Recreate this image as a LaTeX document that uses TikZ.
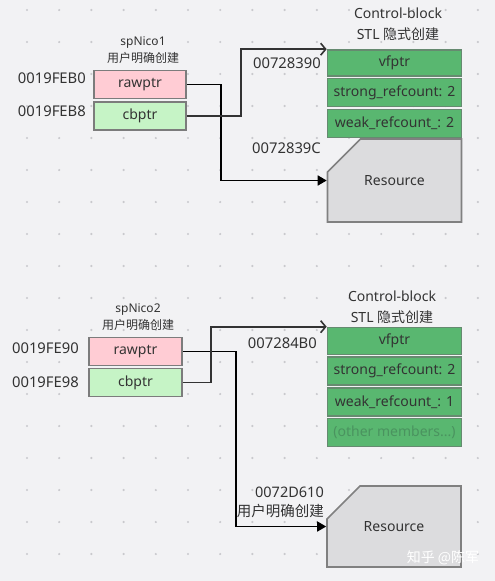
\documentclass[tikz,border=0pt]{standalone}
\usepackage{fontspec}
\setmainfont{Noto Sans}
\newfontfamily\cjk{Noto Sans CJK SC}
\usetikzlibrary{arrows.meta,shapes.misc}

\definecolor{bgcol}{HTML}{F2F2F4}
\definecolor{dotcol}{HTML}{C9C9CD}
\definecolor{txtcol}{HTML}{333333}
\definecolor{rawfill}{HTML}{FFCCD4}
\definecolor{cbfill}{HTML}{C6F4C6}
\definecolor{cellline}{HTML}{7C7C7C}
\definecolor{ctrlfill}{HTML}{59B770}
\definecolor{ctrlline}{HTML}{668A70}
\definecolor{othertxt}{HTML}{4A935F}
\definecolor{resfill}{HTML}{DCDCDE}
\definecolor{resline}{HTML}{808080}

\tikzset{
  ptrcell/.style={draw=cellline, line width=1.6pt, minimum width=92pt, minimum height=28pt, inner sep=0pt},
  rawcell/.style={ptrcell, fill=rawfill},
  cbcell/.style={ptrcell, fill=cbfill},
  ctrlcell/.style={draw=ctrlline, fill=ctrlfill, line width=1.6pt, minimum width=134pt, minimum height=28pt, inner sep=0pt},
  resbox/.style={chamfered rectangle, chamfered rectangle corners=north west,
    chamfered rectangle xsep=29pt, chamfered rectangle ysep=28pt,
    draw=resline, fill=resfill, line width=1.6pt, minimum width=134pt, inner sep=0pt},
  addr/.style={anchor=east, inner sep=0pt, font=\fontsize{14.8}{17}\selectfont},
  caption/.style={align=center, inner sep=0pt, font=\fontsize{12}{17}\selectfont},
  link/.style={line width=1.6pt, black, -{Triangle[length=9pt,width=10pt]}},
  cblink/.style={line width=1.6pt, txtcol, -{Straight Barb[length=5pt,width=12pt]}}
}

\begin{document}
\begin{tikzpicture}[x=1pt, y=-1pt,
  every node/.style={font=\fontsize{14}{17}\selectfont, text=txtcol}]
  \fill[bgcol] (0,0) rectangle (495,581);
  \useasboundingbox (0,0) rectangle (495,581);
  \foreach \i in {0,...,14}
    \foreach \j in {0,...,17}
      \fill[dotcol] ({27+32.2*\i},{10+32*\j}) circle (1.2pt);

  % spNico1
  \node[caption] (nico1) at (143,50.5) {spNico1\\{\cjk 用户明确创建}};
  \node[rawcell] (raw1) at (140,84.5) {rawptr};
  \node[cbcell] (cb1) at (140,116) {cbptr};
  \node[addr] (adr1) at (86,78) {0019FEB0};
  \node[addr] (adr2) at (86,111) {0019FEB8};

  \node[align=center, inner sep=0pt, font=\fontsize{14}{21}\selectfont] (ctl1) at (398,24.5) {Control-block\\STL {\cjk 隐式创建}};
  \node[ctrlcell, minimum height=26pt] (vf1) at (394.5,63) {vfptr};
  \node[ctrlcell] (sr1) at (394.5,92.5) {strong\_refcount: 2};
  \node[ctrlcell] (wr1) at (394.5,123.5) {weak\_refcount\_: 2};
  \node[addr] (adr3) at (321,63) {00728390};
  \node[addr] (adr4) at (321,148) {0072839C};
  \node[resbox, minimum height=83pt] (res1) at (394.5,180.5) {Resource};

  \draw[link] (raw1.east) -- ++(34,0) |- (res1.west);
  \draw[cblink] (cb1.east) -- ++(54,0) |- (vf1.north west);

  % spNico2
  \node[caption] (nico2) at (138,317) {spNico2\\{\cjk 用户明确创建}};
  \node[rawcell, minimum width=93pt] (raw2) at (135.5,351.5) {rawptr};
  \node[cbcell, minimum width=93pt] (cb2) at (135.5,382.5) {cbptr};
  \node[addr] (adr5) at (79,348) {0019FE90};
  \node[addr] (adr6) at (79,382) {0019FE98};

  \node[align=center, inner sep=0pt, font=\fontsize{14}{21}\selectfont] (ctl2) at (392,307) {Control-block\\STL {\cjk 隐式创建}};
  \node[ctrlcell, minimum height=27pt] (vf2) at (394.5,341) {vfptr};
  \node[ctrlcell] (sr2) at (394.5,371) {strong\_refcount: 2};
  \node[ctrlcell] (wr2) at (394.5,402) {weak\_refcount\_: 1};
  \node[ctrlcell, text=othertxt] (om2) at (394.5,432.5) {(other members...)};
  \node[addr] (adr7) at (317,343) {007284B0};
  \node[addr, align=right, font=\fontsize{14.5}{19}\selectfont] (adr8) at (324,502.5) {0072D610\\{\cjk 用户明确创建}};
  \node[resbox, minimum height=81pt] (res2) at (394,526.5) {Resource};

  \draw[link] (raw2.east) -- ++(53,0) |- (res2.west);
  \draw[cblink] (cb2.east) -- ++(28,0) |- (vf2.north west);

  \node[text=white, font=\cjk\fontsize{14}{17}\selectfont] (mark) at (443,558) {知乎 @陈军};
\end{tikzpicture}
\end{document}
